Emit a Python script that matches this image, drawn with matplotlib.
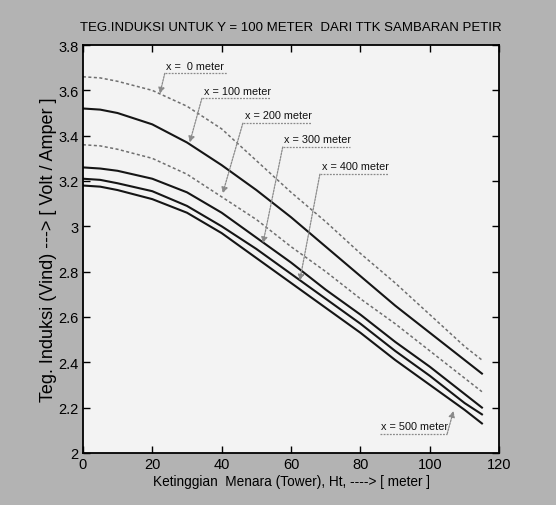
# Teg. induksi vs ketinggian menara, Y = 100 m

import numpy as np
import matplotlib.pyplot as plt

# data
ht = [0, 5, 10, 20, 30, 40, 50, 60, 70, 80, 90, 100, 110, 115]
v_x0 = [3.66, 3.655, 3.64, 3.60, 3.53, 3.43, 3.29, 3.15, 3.02, 2.88, 2.75, 2.61, 2.47, 2.41]
v_x100 = [3.52, 3.515, 3.50, 3.45, 3.37, 3.27, 3.16, 3.04, 2.91, 2.78, 2.65, 2.53, 2.41, 2.35]
v_x200 = [3.36, 3.355, 3.34, 3.30, 3.23, 3.13, 3.03, 2.91, 2.80, 2.68, 2.57, 2.45, 2.33, 2.27]
v_x300 = [3.26, 3.255, 3.245, 3.21, 3.15, 3.06, 2.95, 2.84, 2.72, 2.61, 2.49, 2.38, 2.26, 2.20]
v_x400 = [3.21, 3.205, 3.19, 3.155, 3.09, 3.00, 2.90, 2.79, 2.68, 2.57, 2.45, 2.34, 2.22, 2.17]
v_x500 = [3.18, 3.175, 3.16, 3.12, 3.06, 2.97, 2.86, 2.75, 2.64, 2.53, 2.41, 2.30, 2.19, 2.13]

labels = ['x =  0 meter', 'x = 100 meter', 'x = 200 meter',
          'x = 300 meter', 'x = 400 meter', 'x = 500 meter']
series = [v_x0, v_x100, v_x200, v_x300, v_x400, v_x500]
dotted = [True, False, True, False, False, False]

# label placement (left end of underline) and arrow tips
lab_x = [23.6, 34.3, 46.1, 57.6, 68.3, 85.5]
lab_y = [3.675, 3.565, 3.455, 3.35, 3.23, 2.085]
tip_x = [22.2, 30.8, 40.3, 51.9, 62.5, 106.8]
tip_y = [3.585, 3.37, 3.145, 2.925, 2.76, 2.185]
line_w = [18, 19.5, 19.5, 19.5, 19.5, 19.5]

fnt = ['Liberation Sans', 'DejaVu Sans']

fig = plt.figure(figsize=(5.56, 5.06), dpi=100, facecolor='#b3b3b3')
ax = fig.add_axes([0.149, 0.103, 0.749, 0.806])
ax.set_facecolor('#f3f3f3')

for v, d in zip(series, dotted):
    if d:
        ax.plot(ht, v, color='#6f6f6f', lw=1.1, linestyle=(0, (2, 1.6)))
    else:
        ax.plot(ht, v, color='#151515', lw=1.5)

for i in range(len(labels)):
    ax.text(lab_x[i] + 0.5, lab_y[i] + 0.012, labels[i], family=fnt,
            fontsize=7.8, ha='left', va='bottom', color='#111111')
    ax.plot([lab_x[i], lab_x[i] + line_w[i]], [lab_y[i], lab_y[i]],
            color='#8a8a8a', lw=0.9, linestyle=(0, (1.5, 1)))
    if i < 5:
        start = (lab_x[i], lab_y[i])
    else:
        start = (lab_x[i] + line_w[i], lab_y[i])
    ax.annotate('', xy=(tip_x[i], tip_y[i]), xytext=start,
                arrowprops=dict(arrowstyle='-|>', color='#8a8a8a', lw=0.9,
                                linestyle=(0, (1.5, 1)), mutation_scale=9,
                                shrinkA=0, shrinkB=0))

ax.set_xlim(0, 120)
ax.set_ylim(2, 3.8)
ax.set_xticks(np.arange(0, 121, 20))
ax.set_yticks(np.arange(2, 3.81, 0.2))
ax.set_yticklabels(['%g' % round(t, 1) for t in np.arange(2, 3.81, 0.2)])
ax.tick_params(direction='in', top=True, right=True, length=5, width=1,
               labelsize=10.5, pad=3)
for lab in ax.get_xticklabels() + ax.get_yticklabels():
    lab.set_family(fnt)
for s in ax.spines.values():
    s.set_linewidth(1.3)

ax.set_title('TEG.INDUKSI UNTUK Y = 100 METER  DARI TTK SAMBARAN PETIR',
             family=fnt, fontsize=9.5, pad=11)
ax.set_xlabel('Ketinggian  Menara (Tower), Ht, ----> [ meter ]',
              family=fnt, fontsize=9.8, labelpad=2)
ax.set_ylabel('Teg. Induksi (Vind) ---> [ Volt / Amper ]',
              family=fnt, fontsize=13, labelpad=1)

plt.savefig('out.png', dpi=100, facecolor=fig.get_facecolor())
